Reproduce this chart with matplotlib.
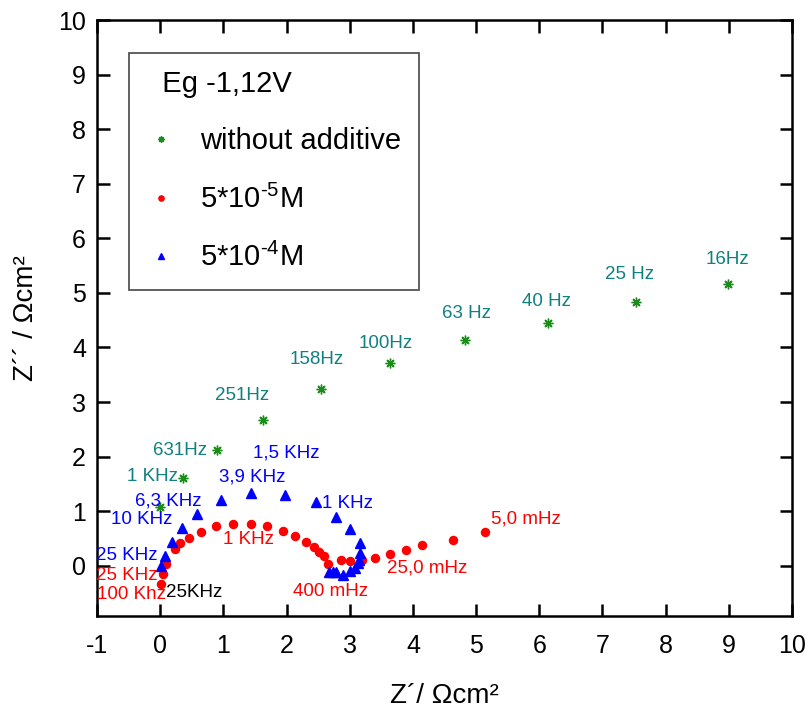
import matplotlib
matplotlib.use("Agg")
import matplotlib.pyplot as plt

plt.rcParams["font.family"] = ["Liberation Sans", "DejaVu Sans"]
plt.rcParams["mathtext.fontset"] = "custom"
plt.rcParams["mathtext.rm"] = "Liberation Sans"
plt.rcParams["mathtext.it"] = "Liberation Sans"
plt.rcParams["mathtext.bf"] = "Liberation Sans"
plt.rcParams["axes.unicode_minus"] = False

# without additive (Eg -1,12V)
x_none = [0.00, 0.36, 0.90, 1.63, 2.55, 3.64, 4.83, 6.14, 7.53, 8.99]
y_none = [1.08, 1.60, 2.13, 2.68, 3.23, 3.71, 4.13, 4.45, 4.84, 5.16]

# 5*10^-5 M
x_m5 = [0.02, 0.04, 0.09, 0.23, 0.32, 0.46, 0.64, 0.88, 1.16, 1.43, 1.69, 1.94,
        2.14, 2.31, 2.43, 2.52, 2.59, 2.66, 2.86, 3.01, 3.20, 3.40, 3.63, 3.89,
        4.14, 4.63, 5.14]
y_m5 = [-0.33, -0.16, 0.04, 0.30, 0.41, 0.51, 0.62, 0.72, 0.76, 0.77, 0.73, 0.64,
        0.54, 0.44, 0.34, 0.26, 0.17, 0.03, 0.11, 0.09, 0.11, 0.15, 0.21, 0.29,
        0.38, 0.48, 0.61]

# 5*10^-4 M
x_m4 = [0.02, 0.08, 0.18, 0.35, 0.58, 0.97, 1.44, 1.97, 2.46, 2.79, 3.01, 3.16,
        3.17, 3.14, 3.13, 3.09, 3.01, 2.89, 2.79, 2.73, 2.67]
y_m4 = [0.00, 0.17, 0.44, 0.69, 0.94, 1.21, 1.33, 1.30, 1.16, 0.89, 0.67, 0.41,
        0.23, 0.11, 0.05, -0.04, -0.10, -0.17, -0.11, -0.11, -0.11]

# frequency annotations
teal_labels = ["16Hz", "25 Hz", "40 Hz", "63 Hz", "100Hz", "158Hz", "251Hz", "631Hz", "1 KHz"]
teal_pos = [(8.97, 5.62), (7.42, 5.34), (6.12, 4.85), (4.85, 4.63), (3.57, 4.08),
            (2.47, 3.78), (1.30, 3.12), (0.32, 2.12), (-0.13, 1.63)]
blue_labels = ["1,5 KHz", "3,9 KHz", "6,3 KHz", "10 KHz", "25 KHz", "1 KHz"]
blue_pos = [(2.00, 2.07), (1.45, 1.63), (0.12, 1.19), (-0.29, 0.85), (-0.53, 0.19), (2.96, 1.14)]
red_labels = ["5,0 mHz", "25,0 mHz", "400 mHz", "1 KHz", "25 KHz", "100 Khz"]
red_pos = [(5.78, 0.86), (4.23, -0.04), (2.69, -0.47), (1.40, 0.49), (-0.53, -0.18), (-0.45, -0.53)]
black_labels = ["25KHz"]
black_pos = [(0.53, -0.49)]

fig = plt.figure(figsize=(8.11, 7.15), dpi=100)
ax = fig.add_axes([0.1196, 0.1385, 0.857, 0.8335])

ax.plot(x_none, y_none, ls="none", marker=(8, 2, 0), ms=7, mew=1.0,
        color="#1a8c1a", label="without additive")
ax.plot(x_m5, y_m5, ls="none", marker="o", ms=5.8, color="#ff0000",
        mec="#ff0000", label=r"5*10$^{\text{-}5}$M")
ax.plot(x_m4, y_m4, ls="none", marker="^", ms=7, color="#0000ff",
        mec="#0000ff", label=r"5*10$^{\text{-}4}$M")

for labels, pos, col in [(teal_labels, teal_pos, "#118080"),
                         (blue_labels, blue_pos, "#0000ff"),
                         (red_labels, red_pos, "#ff0000"),
                         (black_labels, black_pos, "black")]:
    for t, (px, py) in zip(labels, pos):
        ax.text(px, py, t, color=col, fontsize=13.5, ha="center", va="center")

ax.set_xlim(-1, 10)
ax.set_ylim(-0.92, 10)
ax.set_xticks(range(-1, 11))
ax.set_yticks(range(0, 11))
ax.tick_params(direction="in", length=9, width=1.8, top=True, right=True,
               labelsize=18, pad=8)
ax.tick_params(axis="x", pad=13)
for s in ax.spines.values():
    s.set_linewidth(1.8)

ax.set_xlabel("Z\u00b4/ \u03a9cm\u00b2", fontsize=20, labelpad=18)
ax.set_ylabel("Z\u00b4\u00b4 / \u03a9cm\u00b2", fontsize=20, labelpad=14)

leg = ax.legend(loc="upper left", bbox_to_anchor=(0.046, 0.945),
                borderaxespad=0, title="  Eg -1,12V", title_fontsize=21,
                fontsize=21, frameon=True, fancybox=False, edgecolor="#555555",
                framealpha=1, handlelength=1.0, handletextpad=0.85,
                borderpad=0.6, labelspacing=1.0, markerscale=0.65)
leg.get_frame().set_linewidth(1.3)
leg._legend_box.align = "left"

fig.savefig("out.png", dpi=100)
